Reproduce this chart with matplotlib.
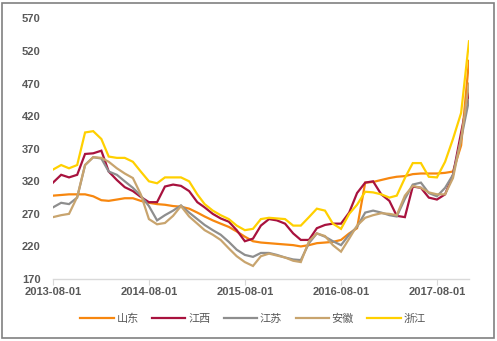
import matplotlib
matplotlib.use("Agg")
import matplotlib.pyplot as plt
import pandas as pd
from matplotlib.patches import Rectangle

plt.rcParams['font.family'] = ['Liberation Sans', 'Noto Sans CJK SC', 'DejaVu Sans']

dates = list(pd.date_range("2013-08-01", "2017-11-01", freq="MS")) + [pd.Timestamp("2017-12-01")]

shandong = [298, 299, 300, 300, 300, 297, 291, 290, 292, 294, 294, 290, 287,
            285, 284, 282, 281, 278, 272, 266, 260, 255, 250, 243, 235, 228,
            226, 225, 224, 223, 222, 220, 222, 225, 226, 227, 230, 240, 248,
            318, 319, 322, 325, 327, 328, 331, 332, 332, 332, 333, 335, 375, 505]
jiangxi = [318, 330, 326, 330, 362, 363, 367, 335, 322, 311, 305, 296, 288,
           288, 312, 315, 313, 305, 288, 280, 270, 263, 258, 245, 228, 232,
           252, 262, 260, 255, 240, 230, 230, 248, 253, 255, 255, 272, 302,
           318, 320, 300, 290, 267, 265, 312, 310, 295, 292, 300, 330, 395, 455]
jiangsu = [280, 287, 285, 295, 345, 357, 355, 335, 330, 320, 310, 298, 282,
           260, 268, 275, 283, 272, 262, 253, 245, 238, 227, 215, 207, 204,
           210, 210, 207, 203, 200, 199, 225, 240, 235, 228, 222, 238, 250,
           272, 275, 272, 268, 266, 293, 315, 318, 302, 297, 310, 330, 385, 445]
anhui = [265, 268, 270, 296, 345, 357, 356, 350, 340, 332, 325, 300, 262,
         254, 256, 267, 282, 266, 255, 245, 238, 230, 217, 205, 196, 190,
         205, 209, 206, 203, 198, 196, 228, 240, 236, 222, 212, 232, 252,
         264, 268, 271, 270, 268, 298, 313, 310, 303, 300, 300, 325, 385, 470]
zhejiang = [338, 345, 340, 345, 395, 397, 385, 358, 356, 356, 350, 335, 320,
            317, 326, 326, 326, 320, 300, 285, 275, 268, 262, 252, 245, 247,
            262, 264, 263, 262, 252, 252, 265, 278, 275, 255, 247, 270, 284,
            304, 303, 300, 295, 298, 325, 348, 348, 327, 326, 350, 385, 425, 535]

names = ["山东", "江西", "江苏", "安徽", "浙江"]
series = [shandong, jiangxi, jiangsu, anhui, zhejiang]
colors = ["#F7870F", "#A8123E", "#8E8E8E", "#C8A46E", "#FFD000"]

yticks = [170, 220, 270, 320, 370, 420, 470, 520, 570]
xtick_labels = ["2013-08-01", "2014-08-01", "2015-08-01", "2016-08-01", "2017-08-01"]

fig = plt.figure(figsize=(4.97, 3.41), dpi=100)
ax = fig.add_axes([53/497, 1-279/341, (469-53)/497, (279-18.5)/341])

for name, vals, c in zip(names, series, colors):
    ax.plot(dates, vals, color=c, lw=1.6, label=name, solid_joinstyle='miter')

ax.set_ylim(170, 570)
ax.set_yticks(yticks)
ax.set_xlim(pd.Timestamp("2013-08-01"), pd.Timestamp("2017-12-01"))
ax.set_xticks([pd.Timestamp(s) for s in xtick_labels])
ax.set_xticklabels(xtick_labels)

for s in ["top", "right", "left"]:
    ax.spines[s].set_visible(False)
ax.spines["bottom"].set_color("#D9D9D9")
ax.spines["bottom"].set_linewidth(1.0)
ax.tick_params(axis='y', length=0, pad=9, labelsize=8, labelcolor="#595959")
ax.tick_params(axis='x', length=4, color="#D9D9D9", pad=2, labelsize=8, labelcolor="#595959")
for lab in ax.get_xticklabels() + ax.get_yticklabels():
    lab.set_fontweight('bold')

leg = fig.legend(loc="center", bbox_to_anchor=(253/497, 1-319/341), ncol=5, frameon=False,
                 fontsize=8, handlelength=3.0, handletextpad=0.25, columnspacing=1.2,
                 labelcolor="#595959")

fig.patches.append(Rectangle((2/497, 3/341), 492/497, 335/341, transform=fig.transFigure,
                             fill=False, edgecolor="#808080", lw=1.2))

fig.savefig("out.png", dpi=100)
